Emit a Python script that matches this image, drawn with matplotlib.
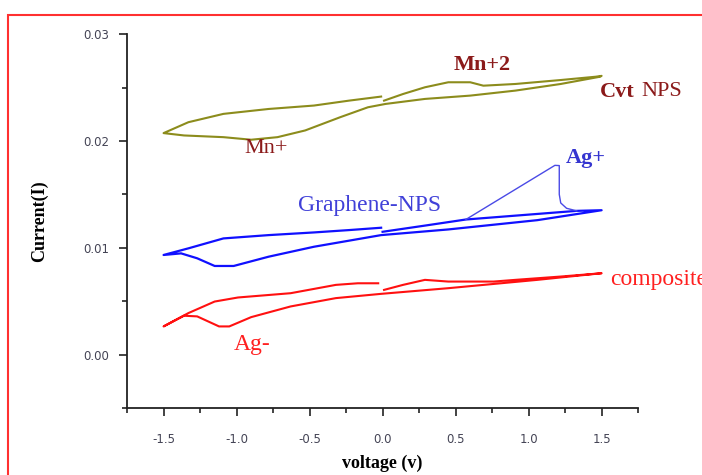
import matplotlib
matplotlib.use('Agg')
import matplotlib.pyplot as plt
from matplotlib.patches import Rectangle
from matplotlib.ticker import MultipleLocator, FormatStrFormatter

# Cvt NPS (olive): after the gap at 0 -> +1.5 -> back to -1.5 -> forward to 0
cvt_v = [0.01, 0.14, 0.29, 0.45, 0.60, 0.69, 0.91, 1.22, 1.46, 1.50,
         1.49, 1.22, 0.91, 0.60, 0.29, 0.02, -0.10, -0.29, -0.53, -0.72, -0.90,
         -1.09, -1.36, -1.50,
         -1.33, -1.09, -0.78, -0.47, -0.23, -0.01]
cvt_i = [0.02378, 0.0244, 0.02503, 0.0255, 0.0255, 0.02518, 0.02534, 0.02571, 0.02602, 0.0261,
         0.02602, 0.02534, 0.02472, 0.02425, 0.02394, 0.02347, 0.02316, 0.02223, 0.02099, 0.02036, 0.02012,
         0.02036, 0.02052, 0.02074,
         0.02176, 0.02254, 0.0230, 0.02332, 0.02378, 0.02416]

# Graphene-NPS (blue), main trace
gr_v = [0.00, 0.30, 0.57,
        1.33, 1.50,
        1.06, 0.45, -0.01, -0.47, -0.78, -1.02, -1.15, -1.27, -1.38, -1.50,
        -1.33, -1.09, -0.78, -0.47, -0.23, -0.01]
gr_i = [0.0115, 0.0121, 0.01265,
        0.01346, 0.01352,
        0.01259, 0.01172, 0.01119, 0.0101, 0.00917, 0.0083, 0.0083, 0.00902, 0.00948, 0.00933,
        0.00995, 0.01088, 0.01119, 0.01144, 0.01166, 0.01188]
# Ag+ oxidation peak (thin part of the blue trace)
peak_v = [0.57, 1.18, 1.21, 1.21, 1.22, 1.26, 1.33]
peak_i = [0.01265, 0.01772, 0.0177, 0.0150, 0.0142, 0.0137, 0.01346]

# composite (red)
comp_v = [0.01, 0.14, 0.29, 0.45, 0.76, 0.91, 1.22, 1.50,
          1.06, 0.45, -0.01, -0.32, -0.63, -0.90, -1.05, -1.12, -1.27, -1.36, -1.50,
          -1.33, -1.15, -0.99, -0.63, -0.32, -0.17, -0.03]
comp_i = [0.00606, 0.00653, 0.0070, 0.00684, 0.00684, 0.0070, 0.00731, 0.00762,
          0.0070, 0.00622, 0.00569, 0.00529, 0.00451, 0.00351, 0.00264, 0.00264, 0.00358, 0.00364, 0.00264,
          0.00389, 0.00497, 0.00535, 0.00575, 0.00653, 0.00668, 0.00668]

olive = '#8c8c1c'
darkred = '#8b1a1a'

fig = plt.figure(figsize=(7.02, 4.75), dpi=100)
ax = fig.add_axes([0.181, 0.141, 0.728, 0.787])

# red frame around the figure
fig.patches.append(Rectangle((8/702, -0.2), 1.5, 1 - 15/475 + 0.2, transform=fig.transFigure,
                             fill=False, ec='#ff3030', lw=1.5))

ax.plot(cvt_v, cvt_i, c=olive, lw=1.5)
ax.plot(gr_v, gr_i, c='#1010ff', lw=1.6)
ax.plot(peak_v, peak_i, c='#4a4ae6', lw=1.0)
ax.plot(comp_v, comp_i, c='#ff1010', lw=1.5)

serif = 'Liberation Serif'
ax.text(0.685, 0.02714, 'Mn+2', color=darkred, fontsize=16, fontweight='bold', family=serif, ha='center', va='center')
ax.text(1.485, 0.02462, 'Cvt', color=darkred, fontsize=16, fontweight='bold', family=serif, ha='left', va='center')
ax.text(1.77, 0.02462, 'NPS', color=darkred, fontsize=16, family=serif, ha='left', va='center')
ax.text(-0.80, 0.0193, 'Mn+', color=darkred, fontsize=16, family=serif, ha='center', va='center')
ax.text(1.39, 0.01837, 'Ag+', color='#3535d0', fontsize=16, fontweight='bold', family=serif, ha='center', va='center')
ax.text(-0.09, 0.01399, 'Graphene-NPS', color='#4040d8', fontsize=17, family=serif, ha='center', va='center')
ax.text(1.56, 0.0070, 'composite', color='#ff2020', fontsize=17, family=serif, ha='left', va='center', clip_on=False)
ax.text(-0.89, 0.00093, 'Ag-', color='#ff2020', fontsize=17, family=serif, ha='center', va='center')

ax.set_xlim(-1.75, 1.75)
ax.set_ylim(-0.005, 0.03)
ax.xaxis.set_major_locator(MultipleLocator(0.5))
ax.xaxis.set_minor_locator(MultipleLocator(0.25))
ax.yaxis.set_major_locator(MultipleLocator(0.01))
ax.yaxis.set_minor_locator(MultipleLocator(0.005))
ax.xaxis.set_major_formatter(FormatStrFormatter('%.1f'))
ax.yaxis.set_major_formatter(FormatStrFormatter('%.2f'))
ax.set_xticks([-1.5, -1.0, -0.5, 0.0, 0.5, 1.0, 1.5])
ax.set_yticks([0.0, 0.01, 0.02, 0.03])

for s in ['top', 'right']:
    ax.spines[s].set_visible(False)
for s in ['left', 'bottom']:
    ax.spines[s].set_color('#222222')
    ax.spines[s].set_linewidth(1.3)
ax.tick_params(which='major', direction='out', length=6, width=1.2, color='#222222',
               labelsize=8.5, labelcolor='#444455')
ax.tick_params(which='minor', direction='out', length=3.5, width=1.2, color='#222222')
ax.tick_params(axis='x', which='major', pad=12)
ax.tick_params(axis='y', which='major', pad=7)

ax.set_xlabel('voltage (v)', fontsize=13, fontweight='bold', family=serif, labelpad=6)
ax.set_ylabel('Current(I)', fontsize=13, fontweight='bold', family=serif, labelpad=25)

fig.savefig('out.png', dpi=100)
